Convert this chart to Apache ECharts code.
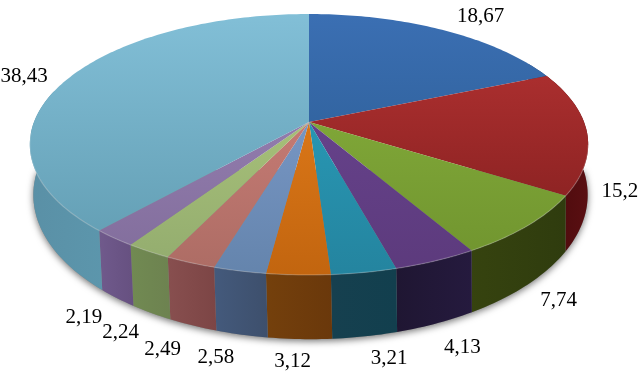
<!DOCTYPE html>
<html><head><meta charset="utf-8">
<style>html,body{margin:0;padding:0;background:#fff}#c{width:638px;height:372px}</style>
<script src="https://cdn.jsdelivr.net/npm/echarts@6/dist/echarts.min.js"></script>
</head><body><div id="c"></div>
<script>
// data
const labels = ['18,67','15,2','7,74','4,13','3,21','3,12','2,58','2,49','2,24','2,19','38,43'];
const values = [18.67,15.2,7.74,4.13,3.21,3.12,2.58,2.49,2.24,2.19,38.43];
// styles
const topLight = ['#3b6fb3','#b83434','#8ab33e','#6c4794','#2ba3c0','#ea821e','#84a2d4','#d6847e','#b4ce80','#9e87ba','#82bfd7'];
const topDark  = ['#265688','#7c1c1c','#6f932e','#5c3a7c','#24849f','#c2650f','#6484ac','#ac6c64','#92ab6e','#806c9a','#5f9aaf'];
const wallLeft = ['#24406a','#5a0f12','#2f3c0e','#251a3e','#123f4e','#74400c','#445a7c','#884f4f','#718a52','#705a8c','#5c96ac'];
const wallRight= ['#24406a','#4a0a0c','#36430f','#1f1632','#16404f','#6a380b','#3d4f6c','#7c4545','#6d8250','#665080','#5a90a6'];
const labelNudge = [[41,-52],[38,10],[35,16],[29,24],[26,22],[-6,22],[-25,23],[-30,24],[-31,20],[-34,19],[-47,-47]];

// projection of the tilted disc
const K = 0.1724;
const TOP = {cx:309, cy:122, a:275, b:126.6};
const BASE = {cx:310.5, cy:170, a:273, b:140};
const LABEL_RING = {cx:309, cy:170, a:270, b:140};
function proj(ring, deg) {
  const t = deg * Math.PI / 180, u = Math.sin(t), v = -Math.cos(t), d = 1 - K * v;
  return [ring.cx + ring.a * u / d, ring.cy + ring.b * v / d];
}
function arc(ring, from, to) {
  const pts = [], n = Math.max(2, Math.ceil(Math.abs(to - from)));
  for (let i = 0; i <= n; i++) pts.push(proj(ring, from + (to - from) * i / n));
  return pts;
}
const total = values.reduce((s, x) => s + x, 0);
const starts = [];
values.reduce((s, x, i) => (starts[i] = s, s + x), 0);
const deg = i => [starts[i] / total * 360, (starts[i] + values[i]) / total * 360];
const rows = values.map((v, i) => [i, v]);

function shadowItem() {
  return {type:'polygon', shape:{points:arc(BASE,90,270)},
    style:{fill:'#888', shadowBlur:7, shadowColor:'rgba(0,0,0,0.55)', shadowOffsetY:2}};
}
function wallItem(p, api) {
  const i = api.value(0), [a, b] = deg(i);
  const lo = Math.max(a, 60), hi = Math.min(b, 285);
  if (hi <= lo) return {type:'group', children:[]};
  const pts = arc(TOP, lo, hi).concat(arc(BASE, hi, lo));
  return {type:'group', children:[
    {type:'polygon', shape:{points:pts}, style:{
      fill:{type:'linear', x:0, y:0, x2:1, y2:0, colorStops:[
        {offset:0, color: (i===10||i<5) ? wallRight[i] : wallLeft[i]},
        {offset:1, color: (i===10||i<5) ? wallLeft[i] : wallRight[i]}]},
      stroke:'rgba(0,0,0,0)'}}
  ]};
}
function faceItem(p, api) {
  const i = api.value(0), [a, b] = deg(i);
  const pts = [[TOP.cx, TOP.cy]].concat(arc(TOP, a, b));
  const kids = [{type:'polygon', shape:{points:pts}, style:{
    fill:{type:'linear', x:0, y:14, x2:0, y2:276, global:true, colorStops:[
      {offset:0, color:topLight[i]}, {offset:1, color:topDark[i]}]}}}];
  const lo = Math.max(a, 100), hi = Math.min(b, 265);
  if (hi > lo) kids.push({type:'polyline', shape:{points:arc(TOP, lo, hi)},
    style:{fill:null, stroke:'rgba(255,255,255,0.22)', lineWidth:1.2}});
  return {type:'group', children:kids};
}
function labelItem(p, api) {
  const i = api.value(0), [a, b] = deg(i), q = proj(LABEL_RING, (a + b) / 2);
  return {type:'text', style:{text:labels[i], x:q[0] + labelNudge[i][0], y:q[1] + labelNudge[i][1],
    align:'center', verticalAlign:'middle', fill:'#000', font:'21px "Liberation Serif"'}};
}
const chart = echarts.init(document.getElementById('c'), null, {renderer:'canvas'});
chart.setOption({
  animation:false, backgroundColor:'#fff',
  series:[
    {type:'custom', coordinateSystem:'none', z:1, data:[[0,0]], renderItem:shadowItem, silent:true},
    {type:'custom', coordinateSystem:'none', z:2, data:rows, renderItem:wallItem, silent:true},
    {type:'custom', coordinateSystem:'none', z:3, data:rows, renderItem:faceItem, silent:true},
    {type:'custom', coordinateSystem:'none', z:4, data:rows, renderItem:labelItem, silent:true}
  ]
});
</script></body></html>
